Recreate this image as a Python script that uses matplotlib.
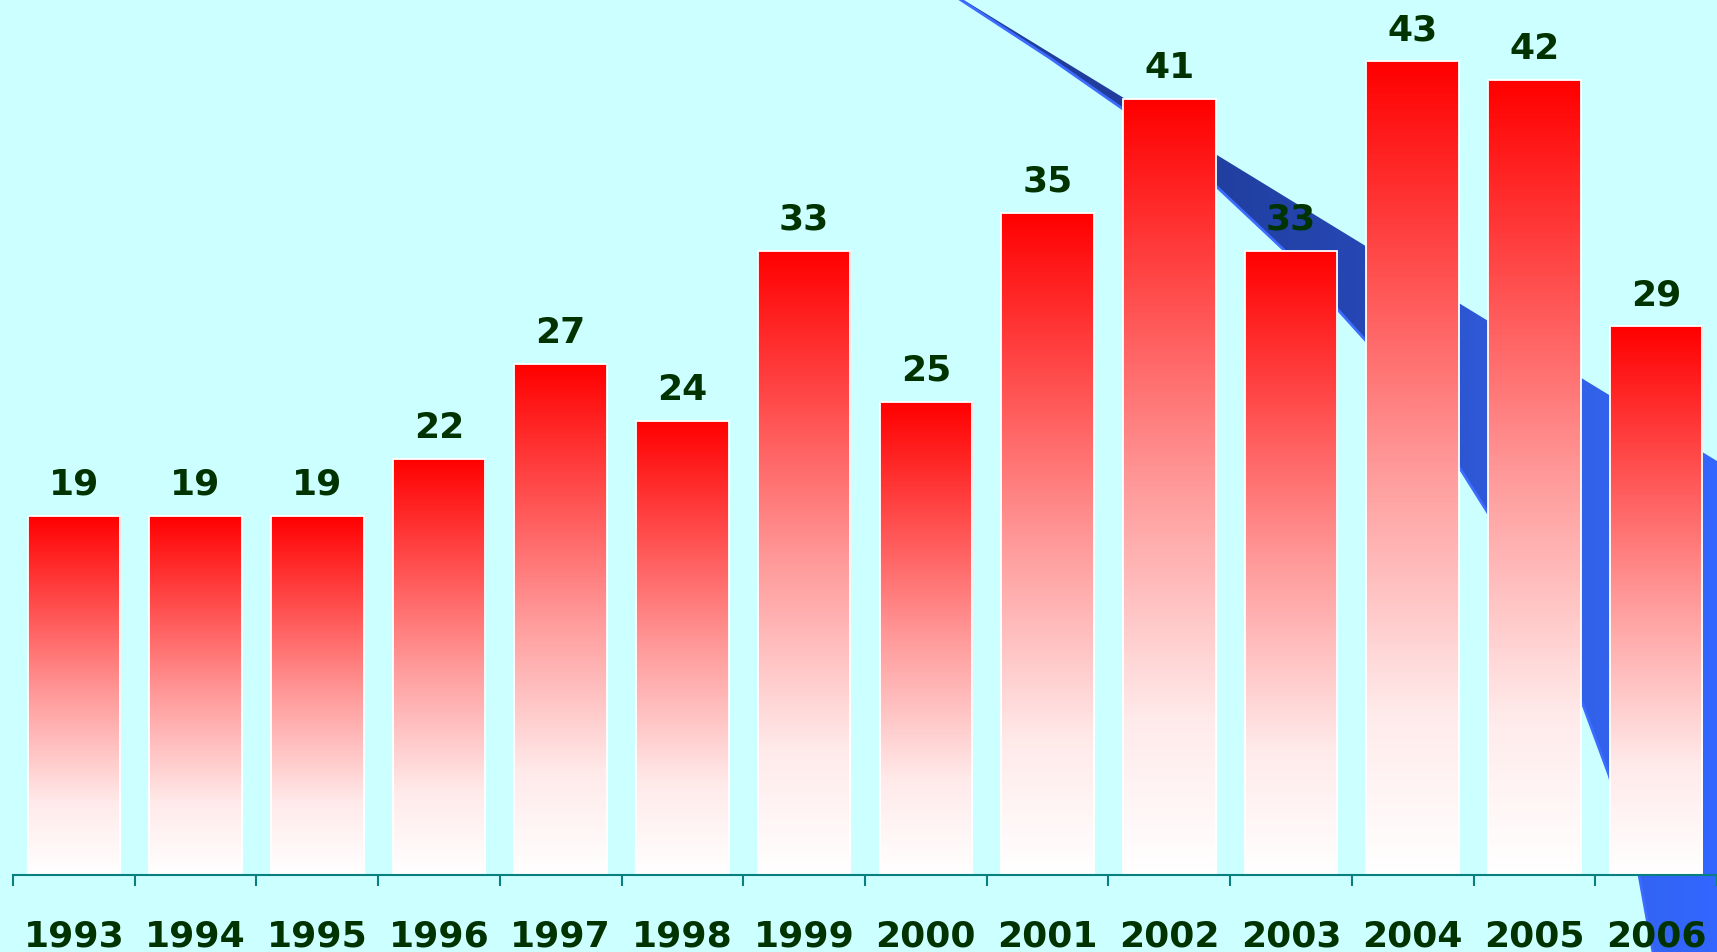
import numpy as np
import matplotlib.pyplot as plt
from matplotlib.colors import LinearSegmentedColormap
from matplotlib.patches import Polygon

years = ["1993", "1994", "1995", "1996", "1997", "1998", "1999",
         "2000", "2001", "2002", "2003", "2004", "2005", "2006"]
counts = [19, 19, 19, 22, 27, 24, 33, 25, 35, 41, 33, 43, 42, 29]

BG = "#CCFFFF"
TEXT = "#003300"
AXIS = "#088080"

# decorative blue ribbon running behind the bars, in axes fractions
ribbon_top = [(0.5603, 1.0), (1.0, 0.5152)]
ribbon_lower = [(0.5588, 1.0), (0.6115, 0.9380), (0.6540, 0.8846),
                (0.7088, 0.8027), (0.7472, 0.7377), (0.7804, 0.6716),
                (0.7962, 0.6401), (0.8509, 0.5058), (0.8666, 0.4607),
                (0.9220, 0.2592), (0.9371, 0.1857), (0.9546, 0.0808),
                (0.9627, 0.0)]

fig = plt.figure(figsize=(17.17, 9.53), dpi=100, facecolor=BG)
ax = fig.add_axes([0, 0, 1, 1])
ax.set_facecolor(BG)

# ribbon: gradient image clipped to the outline
outline = ribbon_lower + [(1.0, 0.0), ribbon_top[1], ribbon_top[0]]
shape = Polygon(outline, closed=True, transform=ax.transAxes,
                facecolor="none", edgecolor="none")
ax.add_patch(shape)
blue = LinearSegmentedColormap.from_list("ribbon", [
    (0.0, "#1E3A94"), (0.70, "#213E9E"), (0.80, "#2648B5"),
    (0.86, "#2E58D6"), (0.93, "#3262EA"), (1.0, "#3366FF")])
ramp = np.linspace(0, 1, 512).reshape(1, -1)
rib = ax.imshow(ramp, cmap=blue, extent=(0, 1, 0, 1), transform=ax.transAxes,
                aspect="auto", zorder=0.2, interpolation="bilinear")
rib.set_clip_path(shape)
lx, ly = zip(*ribbon_lower)
ax.plot(lx, ly, transform=ax.transAxes, color="#3B6BFF", lw=2, zorder=0.3,
        solid_capstyle="butt")

# bars with a red-to-white vertical gradient
x = np.arange(len(years))
bars = ax.bar(x, counts, width=0.76, facecolor="none", edgecolor="white",
              linewidth=1.3, zorder=3)
red = LinearSegmentedColormap.from_list("bar", [
    (0.0, "#FFFFFF"), (0.2, "#FFEAEA"), (0.5, "#FF9A9A"), (1.0, "#FF0000")])
col = np.linspace(0, 1, 256).reshape(-1, 1)
for rect in bars:
    x0, w, h = rect.get_x(), rect.get_width(), rect.get_height()
    img = ax.imshow(col, cmap=red, origin="lower", extent=(x0, x0 + w, 0, h),
                    aspect="auto", zorder=2, interpolation="bilinear")
    img.set_clip_path(rect)

for rect, v in zip(bars, counts):
    ax.annotate(str(v), (rect.get_x() + rect.get_width() / 2, v),
                xytext=(0, 16), textcoords="offset points",
                ha="center", va="baseline", fontsize=26, fontweight="bold",
                color=TEXT, zorder=4)

ax.set_xlim(-0.607, 13.5)
ax.set_ylim(-4.07, 46.3)
for s in ["top", "right", "left"]:
    ax.spines[s].set_visible(False)
ax.spines["bottom"].set_position(("data", 0))
ax.spines["bottom"].set_bounds(-0.5, 13.5)
ax.spines["bottom"].set_color(AXIS)
ax.spines["bottom"].set_linewidth(1.5)
ax.spines["bottom"].set_zorder(3.5)

ax.set_xticks(x)
ax.set_xticklabels(years, fontsize=26, fontweight="bold", color=TEXT)
ax.set_xticks(np.arange(-0.5, 14, 1), minor=True)
ax.tick_params(axis="x", which="major", length=0, pad=31.5)
ax.tick_params(axis="x", which="minor", length=8, width=1.5, color=AXIS,
               direction="out")
ax.set_yticks([])

fig.savefig("out.png", dpi=100, facecolor=BG)
